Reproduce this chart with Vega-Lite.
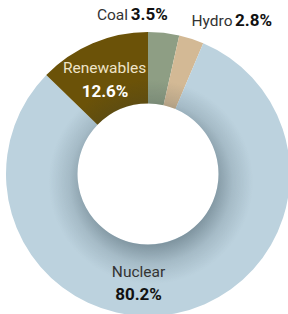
{
  "$schema": "https://vega.github.io/schema/vega-lite/v6.json",
  "width": 280,
  "height": 280,
  "padding": {"left": 8, "top": 34, "right": 0, "bottom": 0},
  "autosize": {"type": "none"},
  "background": "white",
  "config": {"view": {"stroke": null}, "text": {"font": "Roboto", "fontSize": 15.5}},
  "data": {"values": [
    {"category": "Coal", "share": 3.5, "label": "3.5%"},
    {"category": "Hydro", "share": 2.8, "label": "2.8%"},
    {"category": "Nuclear", "share": 80.2, "label": "80.2%"},
    {"category": "Renewables", "share": 12.6, "label": "12.6%"}
  ]},
  "layer": [
    {
      "mark": {"type": "arc", "radius": 142, "radius2": 70.5},
      "encoding": {
        "theta": {"field": "share", "type": "quantitative", "stack": true},
        "order": {"field": "category", "type": "ordinal"},
        "color": {"field": "category", "type": "nominal",
          "scale": {"domain": ["Coal", "Hydro", "Nuclear", "Renewables"], "range": ["#8e9e84", "#d3b995", "#bcd2de", "#6b5208"]},
          "legend": null}
      }
    },
    {
      "data": {"values": [{}]},
      "mark": {"type": "arc", "radius": 142, "radius2": 70.5, "theta": 0, "theta2": 6.2832,
        "fill": {"gradient": "radial", "x1": 0.51, "y1": 0.528, "r1": 0, "x2": 0.51, "y2": 0.528, "r2": 0.36,
          "stops": [
            {"offset": 0, "color": "rgba(30,50,60,0.4)"},
            {"offset": 0.6, "color": "rgba(30,50,60,0.4)"},
            {"offset": 0.8, "color": "rgba(30,50,60,0.14)"},
            {"offset": 1, "color": "rgba(30,50,60,0)"}
          ]}},
      "encoding": {}
    },
    {
      "mark": {"type": "text", "radius": 160, "align": "right", "baseline": "alphabetic", "dx": -37.7, "dy": 5, "color": "#333333"},
      "encoding": {
        "theta": {"field": "share", "type": "quantitative", "stack": true},
        "order": {"field": "category", "type": "ordinal"},
        "detail": {"field": "category", "type": "nominal"},
        "text": {"condition": {"test": "datum.category === 'Coal'", "field": "category", "type": "nominal"}, "value": ""}
      }
    },
    {
      "mark": {"type": "text", "radius": 160, "align": "left", "baseline": "alphabetic", "dx": -34.9, "dy": 5, "color": "#111111", "fontWeight": "bold", "fontSize": 17},
      "encoding": {
        "theta": {"field": "share", "type": "quantitative", "stack": true},
        "order": {"field": "category", "type": "ordinal"},
        "detail": {"field": "category", "type": "nominal"},
        "text": {"condition": {"test": "datum.category === 'Coal'", "field": "label", "type": "nominal"}, "value": ""}
      }
    },
    {
      "mark": {"type": "text", "radius": 160, "align": "right", "baseline": "alphabetic", "dx": 35.6, "dy": 4.3, "color": "#333333"},
      "encoding": {
        "theta": {"field": "share", "type": "quantitative", "stack": true},
        "order": {"field": "category", "type": "ordinal"},
        "detail": {"field": "category", "type": "nominal"},
        "text": {"condition": {"test": "datum.category === 'Hydro'", "field": "category", "type": "nominal"}, "value": ""}
      }
    },
    {
      "mark": {"type": "text", "radius": 160, "align": "left", "baseline": "alphabetic", "dx": 38.1, "dy": 4.3, "color": "#111111", "fontWeight": "bold", "fontSize": 17},
      "encoding": {
        "theta": {"field": "share", "type": "quantitative", "stack": true},
        "order": {"field": "category", "type": "ordinal"},
        "detail": {"field": "category", "type": "nominal"},
        "text": {"condition": {"test": "datum.category === 'Hydro'", "field": "label", "type": "nominal"}, "value": ""}
      }
    },
    {
      "mark": {"type": "text", "radius": 95, "align": "center", "baseline": "alphabetic", "dx": -6.5, "dy": -13.2, "color": "#efe4c8"},
      "encoding": {
        "theta": {"field": "share", "type": "quantitative", "stack": true},
        "order": {"field": "category", "type": "ordinal"},
        "detail": {"field": "category", "type": "nominal"},
        "text": {"condition": {"test": "datum.category === 'Renewables'", "field": "category", "type": "nominal"}, "value": ""}
      }
    },
    {
      "mark": {"type": "text", "radius": 95, "align": "center", "baseline": "alphabetic", "dx": -6, "dy": 10.2, "color": "#ffffff", "fontWeight": "bold", "fontSize": 17},
      "encoding": {
        "theta": {"field": "share", "type": "quantitative", "stack": true},
        "order": {"field": "category", "type": "ordinal"},
        "detail": {"field": "category", "type": "nominal"},
        "text": {"condition": {"test": "datum.category === 'Renewables'", "field": "label", "type": "nominal"}, "value": ""}
      }
    },
    {
      "mark": {"type": "text", "radius": 105, "align": "center", "baseline": "alphabetic", "dx": -30.3, "dy": 0, "color": "#333333"},
      "encoding": {
        "theta": {"field": "share", "type": "quantitative", "stack": true},
        "order": {"field": "category", "type": "ordinal"},
        "detail": {"field": "category", "type": "nominal"},
        "text": {"condition": {"test": "datum.category === 'Nuclear'", "field": "category", "type": "nominal"}, "value": ""}
      }
    },
    {
      "mark": {"type": "text", "radius": 105, "align": "center", "baseline": "alphabetic", "dx": -30.3, "dy": 23, "color": "#111111", "fontWeight": "bold", "fontSize": 17},
      "encoding": {
        "theta": {"field": "share", "type": "quantitative", "stack": true},
        "order": {"field": "category", "type": "ordinal"},
        "detail": {"field": "category", "type": "nominal"},
        "text": {"condition": {"test": "datum.category === 'Nuclear'", "field": "label", "type": "nominal"}, "value": ""}
      }
    }
  ]
}
